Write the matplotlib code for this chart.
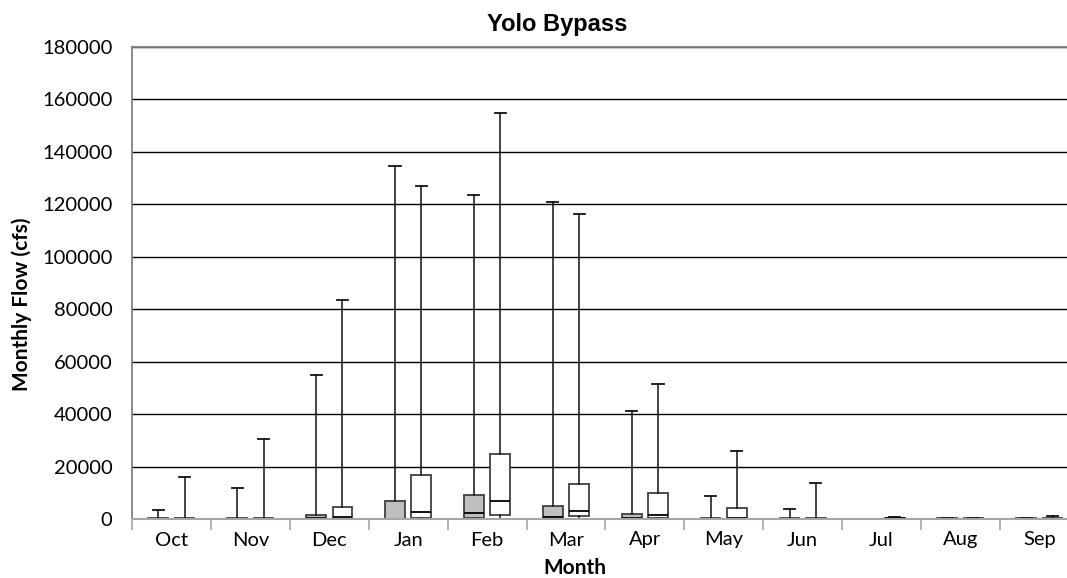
import numpy as np
import matplotlib
matplotlib.use("Agg")
import matplotlib.pyplot as plt

months = ["Oct", "Nov", "Dec", "Jan", "Feb", "Mar", "Apr", "May", "Jun", "Jul", "Aug", "Sep"]

# first series (grey boxes) - Jul has no box
gray_q1 = [0, 0, 0, 0, 200, 0, 0, 0, 0, None, 0, 0]
gray_med = [100, 100, 300, 100, 2200, 900, 300, 100, 100, None, 100, 100]
gray_q3 = [300, 300, 1650, 6750, 9200, 5100, 2000, 300, 300, None, 200, 200]
gray_max = [3400, 11700, 55000, 134500, 123700, 120700, 41300, 8800, 3800, None, 300, 300]

# second series (white boxes)
white_q1 = [0, 0, 0, 200, 1400, 1250, 300, 0, 0, 0, 0, 0]
white_med = [100, 100, 900, 2700, 6750, 3000, 1650, 300, 100, 200, 100, 100]
white_q3 = [300, 300, 4700, 16700, 24700, 13500, 9800, 4200, 300, 500, 200, 300]
white_max = [15900, 30400, 83700, 127000, 154900, 116500, 51300, 25800, 13900, 600, 300, 1250]


def make_stats(q1, med, q3, hi):
    stats, pos = [], []
    for i in range(len(months)):
        if q1[i] is None:
            continue
        stats.append(dict(whislo=0, q1=q1[i], med=med[i], q3=q3[i], whishi=hi[i], fliers=[]))
        pos.append(i)
    return stats, np.array(pos)


fig = plt.figure(figsize=(10.67, 5.78), dpi=100)
ax = fig.add_axes([132 / 1067, 59 / 578, 935 / 1067, 472 / 578])

common = dict(widths=0.25, capwidths=0.14, patch_artist=True, showfliers=False,
              medianprops=dict(color="black", lw=1.3),
              whiskerprops=dict(color="#111111", lw=1.1),
              capprops=dict(color="#111111", lw=1.3))

st, pos = make_stats(gray_q1, gray_med, gray_q3, gray_max)
ax.bxp(st, positions=pos + 1 / 3, boxprops=dict(facecolor="#bfbfbf", edgecolor="#404040", lw=1.3), **common)
st, pos = make_stats(white_q1, white_med, white_q3, white_max)
ax.bxp(st, positions=pos + 2 / 3, boxprops=dict(facecolor="white", edgecolor="#404040", lw=1.3), **common)

ax.set_xlim(0, 935 / 78.9)
ax.set_ylim(0, 180000)
ax.set_yticks(np.arange(0, 180001, 20000))
ax.yaxis.grid(True, color="black", lw=1)
ax.set_axisbelow(True)

ax.set_xticks(np.arange(0, 12))
ax.set_xticklabels([])
ax.set_xticks(np.arange(12) + 0.5, minor=True)
ax.set_xticklabels(months, minor=True, fontsize=14.5, family="Lato")
ax.tick_params(axis="x", which="major", length=8, width=1.2, color="#a6a6a6")
ax.tick_params(axis="x", which="minor", length=0, pad=9)
ax.tick_params(axis="y", length=0, pad=14, labelsize=14.5)
for lab in ax.get_yticklabels():
    lab.set_family("Lato")

ax.spines["right"].set_visible(False)
ax.spines["top"].set_color("#7f7f7f")
ax.spines["top"].set_linewidth(1.3)
ax.spines["left"].set_color("#7f7f7f")
ax.spines["left"].set_linewidth(1.3)
ax.spines["bottom"].set_color("#a6a6a6")
ax.spines["bottom"].set_linewidth(1.5)

fig.text(557 / 1067, 1 - 25 / 578, "Yolo Bypass", ha="center", va="center",
         fontsize=17, fontweight="bold", family="Liberation Sans")
fig.text(575 / 1067, 1 - 568 / 578, "Month", ha="center", va="center",
         fontsize=15, fontweight="bold", family="Lato")
fig.text(22 / 1067, 1 - 304 / 578, "Monthly Flow (cfs)", ha="center", va="center",
         rotation=90, fontsize=15, fontweight="bold", family="Lato")

fig.savefig("out.png", dpi=100)
